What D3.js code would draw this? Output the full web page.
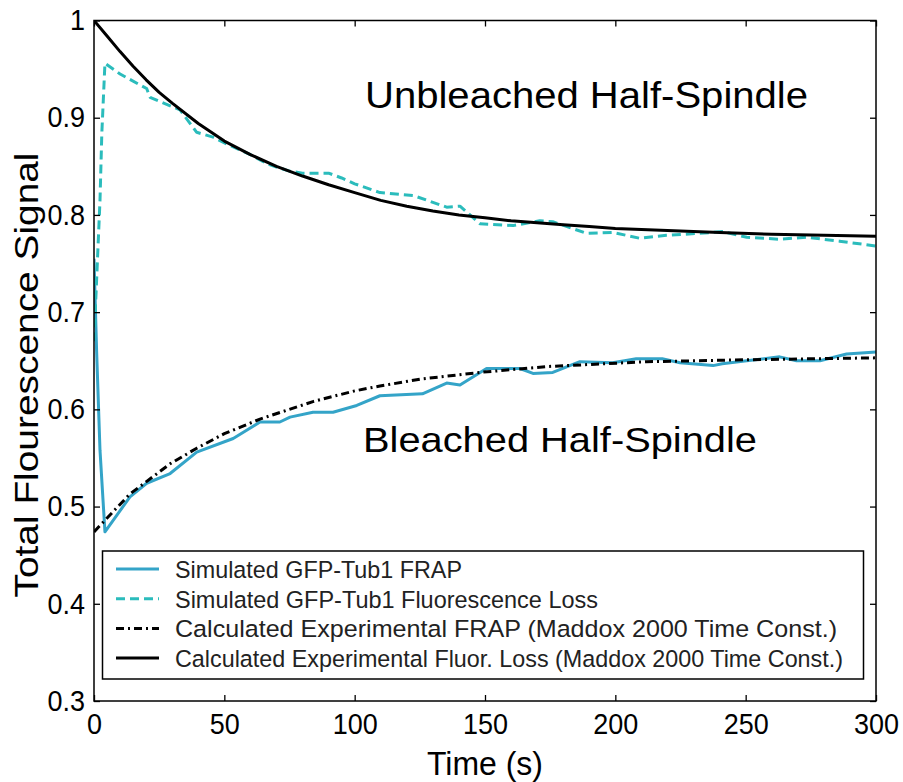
<!DOCTYPE html>
<html>
<head>
<meta charset="utf-8">
<script src="https://cdn.jsdelivr.net/npm/d3@7"></script>
<style>
  body { margin: 0; background: #fff; }
  svg text { font-family: "Liberation Sans", Arial, sans-serif; }
</style>
</head>
<body>
<div id="chart"></div>
<script>
// Simulated GFP-Tub1 FRAP (solid blue)
var simFrapT = [0, 1, 2.3, 4.2, 13.8, 20.2, 29.2, 39.4, 53.4, 63.7, 71.3, 75.2, 84, 91.7, 100.8, 109.7,
  126, 135.3, 140.4, 150.6, 163.4, 168.4, 176, 186.4, 199, 208, 218, 224.8, 237.5, 241, 250.4, 263, 269.5, 278.5, 288.7, 300];
var simFrapV = [0.755, 0.66, 0.558, 0.474, 0.51, 0.524, 0.534, 0.556, 0.57, 0.587, 0.587, 0.592, 0.597, 0.597, 0.604, 0.614,
  0.616, 0.627, 0.625, 0.642, 0.642, 0.637, 0.638, 0.649, 0.648, 0.652, 0.652, 0.648, 0.645, 0.647, 0.650, 0.654, 0.650, 0.650, 0.657, 0.659];

// Simulated GFP-Tub1 Fluorescence Loss (dashed cyan)
var simLossT = [0, 2.3, 3, 4.2, 10, 20.2, 21.5, 33, 39.4, 45.7, 50.9, 60, 67, 75, 80, 90, 95, 100, 109.7,
  122.5, 135.3, 140.4, 148, 160.8, 171, 176, 189, 199, 209.4, 219.6, 237.5, 241, 250.4, 263, 273.4, 286, 300];
var simLossV = [0.67, 0.815, 0.884, 0.956, 0.945, 0.93, 0.921, 0.908, 0.885, 0.88, 0.873, 0.862, 0.852, 0.845, 0.843, 0.843, 0.838, 0.832, 0.823,
  0.82, 0.808, 0.809, 0.791, 0.789, 0.794, 0.793, 0.781, 0.782, 0.776, 0.779, 0.782, 0.783, 0.777, 0.775, 0.777, 0.773, 0.768];

// Calculated Experimental FRAP (dash-dot black)
var expFrapT = [0, 13.8, 29.2, 39.4, 50, 63.7, 84, 100, 109.7, 125, 148, 173.6, 212, 250, 300];
var expFrapV = [0.474, 0.513, 0.544, 0.56, 0.575, 0.59, 0.608, 0.619, 0.624, 0.631, 0.638, 0.644, 0.649, 0.651, 0.653];

// Calculated Experimental Fluor. Loss (solid black)
var expLossT = [0, 5, 10, 15, 20, 25, 30, 40, 50, 60, 70, 80, 90, 100, 110, 120, 130, 140, 150, 160, 170, 180, 190, 200, 220, 240, 260, 280, 300];
var expLossV = [1.0, 0.984, 0.968, 0.953, 0.939, 0.926, 0.915, 0.894, 0.876, 0.862, 0.850, 0.840, 0.831, 0.823, 0.815, 0.809, 0.804, 0.800, 0.797, 0.794, 0.792, 0.790, 0.788, 0.786, 0.784, 0.782, 0.780, 0.779, 0.778];

var xTicks = [0, 50, 100, 150, 200, 250, 300];
var yTicks = [0.3, 0.4, 0.5, 0.6, 0.7, 0.8, 0.9, 1];

var legendLabels = [
  "Simulated GFP-Tub1 FRAP",
  "Simulated GFP-Tub1 Fluorescence Loss",
  "Calculated Experimental FRAP (Maddox 2000 Time Const.)",
  "Calculated Experimental Fluor. Loss (Maddox 2000 Time Const.)"
];

var svgWidth = 903, svgHeight = 782;
var margin = { top: 20.5, right: 27, bottom: 81, left: 94 };
var width = svgWidth - margin.left - margin.right;
var height = svgHeight - margin.top - margin.bottom;

var svg = d3.select("#chart").append("svg")
  .attr("width", svgWidth)
  .attr("height", svgHeight);

var g = svg.append("g")
  .attr("transform", `translate(${margin.left}, ${margin.top})`);

var x = d3.scaleLinear().domain([0, 300]).range([0, width]);
var y = d3.scaleLinear().domain([0.3, 1]).range([height, 0]);

// series styles
var series = [
  { t: simFrapT, v: simFrapV, color: "#34a4c8", dash: null, w: 3 },
  { t: simLossT, v: simLossV, color: "#2bbcbc", dash: "9,5", w: 3 },
  { t: expFrapT, v: expFrapV, color: "#000", dash: "8,4,2,4", w: 3 },
  { t: expLossT, v: expLossV, color: "#000", dash: null, w: 3 }
];

var line = d3.line()
  .x(d => x(d[0]))
  .y(d => y(d[1]));

g.append("clipPath").attr("id", "plotclip")
  .append("rect").attr("width", width).attr("height", height);

var lines = g.append("g").attr("clip-path", "url(#plotclip)");
series.forEach(function (s) {
  var pts = s.t.map((t, i) => [t, s.v[i]]);
  lines.append("path")
    .datum(pts)
    .attr("d", line)
    .attr("fill", "none")
    .attr("stroke", s.color)
    .attr("stroke-width", s.w)
    .attr("stroke-linejoin", "round")
    .attr("stroke-dasharray", s.dash);
});

// tick labels are a bit taller than wide in the original
function squeeze(sel) {
  sel.attr("font-size", 29).attr("fill", "#000").attr("font-family", null)
    .each(function () {
      var w = this.getComputedTextLength();
      d3.select(this).attr("textLength", w * 0.93).attr("lengthAdjust", "spacingAndGlyphs");
    });
}

// axes: ticks inward on all four sides
var tickLen = 6;
g.append("g")
  .attr("transform", `translate(0, ${height})`)
  .call(d3.axisBottom(x).tickValues(xTicks).tickSizeInner(-tickLen).tickSizeOuter(0).tickPadding(12).tickFormat(d3.format("d")))
  .call(a => a.select(".domain").remove())
  .call(a => squeeze(a.selectAll("text")));

g.append("g")
  .call(d3.axisTop(x).tickValues(xTicks).tickSizeInner(-tickLen).tickSizeOuter(0).tickFormat(""))
  .call(a => a.select(".domain").remove());

g.append("g")
  .call(d3.axisLeft(y).tickValues(yTicks).tickSizeInner(-tickLen).tickSizeOuter(0).tickPadding(9).tickFormat(d => d === 1 ? "1" : d3.format(".1f")(d)))
  .call(a => a.select(".domain").remove())
  .call(a => squeeze(a.selectAll("text")));

g.append("g")
  .attr("transform", `translate(${width}, 0)`)
  .call(d3.axisRight(y).tickValues(yTicks).tickSizeInner(-tickLen).tickSizeOuter(0).tickFormat(""))
  .call(a => a.select(".domain").remove());

g.selectAll(".tick line").attr("stroke", "#000").attr("stroke-width", 1.3);

g.append("rect")
  .attr("width", width).attr("height", height)
  .attr("fill", "none").attr("stroke", "#000").attr("stroke-width", 1.5);

// legend
var legend = svg.append("g");
legend.append("rect")
  .attr("x", 102.5).attr("y", 551).attr("width", 761).attr("height", 128)
  .attr("fill", "#fff").attr("stroke", "#000").attr("stroke-width", 1.5);

var legendWidths = [287, 423, 662, 668];
legendLabels.forEach(function (lab, i) {
  var yy = 569 + i * 29.7;
  var s = series[i];
  legend.append("line")
    .attr("x1", 116).attr("x2", 159).attr("y1", yy).attr("y2", yy)
    .attr("stroke", s.color).attr("stroke-width", s.w)
    .attr("stroke-dasharray", s.dash);
  legend.append("text")
    .attr("x", 175).attr("y", yy + 9)
    .attr("font-size", 24.5)
    .attr("fill", "#222")
    .attr("textLength", legendWidths[i])
    .attr("lengthAdjust", "spacingAndGlyphs")
    .text(lab);
});

// annotations
svg.append("text")
  .attr("x", 365).attr("y", 108)
  .attr("font-size", 36)
  .attr("textLength", 443).attr("lengthAdjust", "spacingAndGlyphs")
  .text("Unbleached Half-Spindle");

svg.append("text")
  .attr("x", 363).attr("y", 452)
  .attr("font-size", 35)
  .attr("textLength", 394).attr("lengthAdjust", "spacingAndGlyphs")
  .text("Bleached Half-Spindle");

// axis titles
svg.append("text")
  .attr("x", 485).attr("y", 775)
  .attr("text-anchor", "middle")
  .attr("font-size", 34)
  .attr("textLength", 116).attr("lengthAdjust", "spacingAndGlyphs")
  .text("Time (s)");

svg.append("text")
  .attr("transform", "translate(38, 375) rotate(-90)")
  .attr("text-anchor", "middle")
  .attr("font-size", 34)
  .attr("textLength", 445).attr("lengthAdjust", "spacingAndGlyphs")
  .text("Total Flourescence Signal");
</script>
</body>
</html>
